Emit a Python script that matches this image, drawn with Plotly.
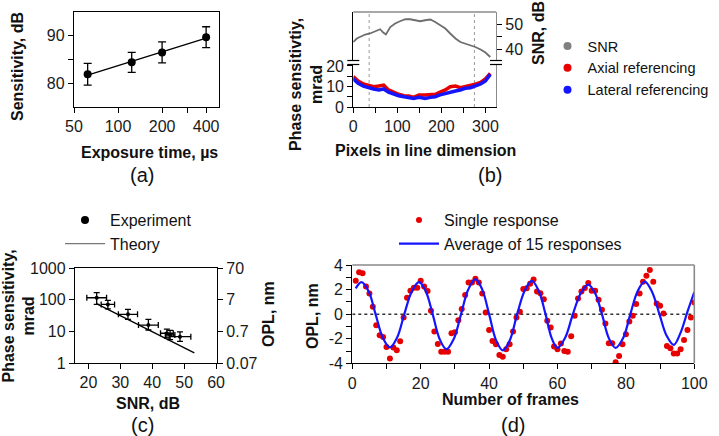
import plotly.graph_objects as go

W, H = 719, 436
FONT = "Liberation Sans, Arial, sans-serif"

# (a) sensitivity vs exposure time
exposure_us = [62, 124, 200, 400]
sensitivity_db = [81.9, 84.4, 86.5, 89.7]
sensitivity_err = [2.3, 2.1, 2.2, 2.2]
fit_exposure_us = [62, 400]
fit_sensitivity_db = [81.7, 89.5]

# (b) SNR and phase sensitivity along the line
snr_pixels = [0, 8, 15, 27, 38, 49, 61, 68, 74, 84, 95, 106, 118, 129, 140,
              152, 163, 175, 186, 197, 209, 220, 232, 243, 254, 266, 277, 289, 300, 311]
snr_db = [42.9, 44.3, 44.9, 45.9, 46.3, 47.2, 48.0, 46.7, 45.9, 48.9, 50.3, 51.2, 52.0, 52.0, 51.6,
          51.2, 51.6, 51.9, 50.9, 49.6, 48.3, 46.3, 44.3, 42.9, 42.3, 41.6, 40.9, 39.9, 38.7, 36.9]
phase_pixels = [0, 11, 23, 34, 46, 58, 69, 80, 91, 103, 115, 126, 137, 149,
                163, 175, 186, 197, 209, 220, 232, 243, 254, 266, 277, 289, 300, 311]
axial_mrad = [14.8, 12.7, 11.2, 10.7, 9.9, 10.2, 10.7, 8.3, 7.2, 6.2, 5.5, 5.4, 4.7, 5.9,
              5.9, 6.2, 6.2, 7.2, 8.3, 9.9, 10.2, 9.4, 9.9, 10.7, 11.1, 12.0, 13.7, 16.4]
lateral_mrad = [13.7, 11.5, 10.2, 9.4, 8.8, 8.3, 8.8, 7.2, 6.2, 5.5, 5.0, 4.5, 4.2, 4.7,
                4.2, 4.7, 5.0, 5.9, 6.7, 7.2, 7.8, 8.3, 9.1, 9.4, 10.2, 11.2, 12.7, 15.9]
roi_pixels = [36, 275]

# (c) phase sensitivity vs SNR
snr_exp = [22.6, 26.1, 32.4, 38.8, 44.6, 45.6, 48.7]
snr_exp_err = [3.1, 2.1, 3.0, 3.1, 2.0, 1.5, 3.4]
phase_exp = [115, 71, 34.5, 15.8, 8.7, 7.7, 6.8]
phase_err_plus = [51, 24, 15, 8, 3, 3, 2.8]
phase_err_minus = [44, 20, 10.5, 4.8, 2.5, 2.2, 2.0]
theory_snr = [22.5, 53.2]
theory_phase = [75, 2.1]

# (d) OPL response
frames = list(range(1, 101))
single_opl = [2.72, 3.4, 3.32, 2.26, 1.69, 0.6, -0.9, -1.71, -1.85, -2.67,
              -3.6, -2.72, -2.94, -2.2, -0.27, 1.33, 1.9, 2.15, 2.15, 2.72,
              2.26, 1.88, 0.27, -1.41, -2.42, -3.07, -3.07, -3.07, -1.55, -1.47,
              -0.49, 0.41, 1.55, 2.58, 2.58, 2.88, 2.58, 1.69, 0.14, -1.28,
              -2.18, -2.45, -3.32, -3.46, -2.86, -2.45, -1.41, -0.27, 0.19, 2.04,
              2.1, 2.48, 2.83, 1.85, 1.71, 1.22, -0.54, -1.09, -2.64, -2.86,
              -2.39, -2.99, -3.05, -1.8, -0.14, 1.28, 1.85, 2.12, 2.53, 1.9,
              1.9, 1.17, 0.35, -0.76, -2.37, -2.37, -3.92, -3.4, -2.45, -1.63,
              -0.6, -0.14, 0.82, 1.69, 2.64, 3.13, 3.59, 2.64, 0.87, 0.68,
              0.05, -2.59, -2.78, -3.21, -3.21, -2.86, -2.1, -1.28, -0.27, 0.95]
avg_frames = [1, 2.7, 4.8, 6.8, 8.9, 11, 13.1, 15.2, 17.4, 19.5, 21.5, 23.5, 25.5, 27.5,
              29.7, 31.8, 33.9, 36, 38, 40, 42, 44, 46.1, 48.2, 50.4, 52.5, 54.5, 56.5,
              58.3, 60, 62.2, 64.5, 66.8, 69, 71, 73, 75, 77, 79.2, 81.3, 83.4, 85.5,
              87.6, 89.8, 91.9, 94, 96, 98, 100]
avg_opl = [2.1, 2.6, 1.85, 0, -1.9, -2.7, -1.9, 0, 1.85, 2.6, 1.85, 0, -2.0, -2.85,
           -2.0, 0, 2.0, 2.85, 2.0, 0, -2.1, -2.95, -2.1, 0, 1.9, 2.7, 1.9, 0,
           -1.95, -2.75, -1.95, 0, 1.7, 2.4, 1.7, 0, -1.95, -2.75, -1.95, 0, 1.85, 2.65,
           1.85, 0, -1.75, -2.5, -1.5, 0.2, 1.8]

RED = '#e60000'
BLUE = '#1414ff'
GRAY = '#6e6e6e'


def px(x):
    return x / W


def py(y):
    return 1 - y / H


def axis(**kw):
    base = dict(showline=True, linecolor='black', linewidth=1.3, ticks='outside',
                ticklen=5, tickwidth=1.3, tickcolor='black', showgrid=False,
                zeroline=False, automargin=False,
                tickfont=dict(size=16, family=FONT, color='#1a1a1a'))
    base.update(kw)
    return base


fig = go.Figure()

# ---- (a)
fig.add_trace(go.Scatter(x=fit_exposure_us, y=fit_sensitivity_db, mode='lines',
                         line=dict(color='black', width=1.3), showlegend=False,
                         xaxis='x', yaxis='y'))
fig.add_trace(go.Scatter(x=exposure_us, y=sensitivity_db, mode='markers',
                         marker=dict(color='black', size=8),
                         error_y=dict(type='data', array=sensitivity_err, color='black',
                                      thickness=1.3, width=4),
                         showlegend=False, xaxis='x', yaxis='y'))

# ---- (b)
fig.add_trace(go.Scatter(x=snr_pixels, y=snr_db, mode='lines',
                         line=dict(color=GRAY, width=1.8), showlegend=False,
                         xaxis='x2', yaxis='y3'))
fig.add_trace(go.Scatter(x=phase_pixels, y=axial_mrad, mode='lines',
                         line=dict(color=RED, width=3.5), showlegend=False,
                         xaxis='x2', yaxis='y2'))
fig.add_trace(go.Scatter(x=phase_pixels, y=lateral_mrad, mode='lines',
                         line=dict(color=BLUE, width=3.5), showlegend=False,
                         xaxis='x2', yaxis='y2'))
for name, col in [('SNR', '#808080'), ('Axial referencing', RED), ('Lateral referencing', BLUE)]:
    fig.add_trace(go.Scatter(x=[None], y=[None], mode='markers', name=name,
                             marker=dict(color=col, size=8), legend='legend',
                             xaxis='x2', yaxis='y2'))

# ---- (c)
fig.add_trace(go.Scatter(x=theory_snr, y=theory_phase, mode='lines',
                         line=dict(color='black', width=1.3), showlegend=False,
                         xaxis='x3', yaxis='y4'))
fig.add_trace(go.Scatter(x=snr_exp, y=phase_exp, mode='markers',
                         marker=dict(color='black', size=4),
                         error_x=dict(type='data', array=snr_exp_err, color='black',
                                      thickness=1.3, width=3),
                         error_y=dict(type='data', array=phase_err_plus,
                                      arrayminus=phase_err_minus, color='black',
                                      thickness=1.3, width=3),
                         showlegend=False, xaxis='x3', yaxis='y4'))
fig.add_trace(go.Scatter(x=[None], y=[None], mode='markers', name='Experiment',
                         marker=dict(color='black', size=8), legend='legend2',
                         xaxis='x3', yaxis='y5'))
fig.add_trace(go.Scatter(x=[None], y=[None], mode='lines', name='Theory',
                         line=dict(color='#777777', width=1.3), legend='legend2',
                         xaxis='x3', yaxis='y5'))

# ---- (d)
fig.add_trace(go.Scatter(x=frames, y=single_opl, mode='markers', name='Single response',
                         marker=dict(color=RED, size=6), legend='legend3',
                         xaxis='x4', yaxis='y6'))
fig.add_trace(go.Scatter(x=avg_frames, y=avg_opl, mode='lines', name='Average of 15 responses',
                         line=dict(color=BLUE, width=2.2, shape='spline'), legend='legend3',
                         xaxis='x4', yaxis='y6'))

dom_top = [py(107), py(12)]

layout_axes = dict(
    xaxis=axis(type='log', domain=[px(74), px(219)], range=[1.699, 2.690], anchor='y',
               tickvals=[50, 100, 200, 300, 400], ticktext=['50', '100', '200', '', '400'],
               mirror=True),
    yaxis=axis(domain=dom_top, range=[75, 95], anchor='x', tickvals=[80, 85, 90],
               ticktext=['80', '', '90'], mirror=True),
    xaxis2=axis(domain=[px(353.3), px(496)], range=[0, 324], anchor='y2',
                tickvals=[0, 50, 100, 150, 200, 250, 300],
                ticktext=['0', '', '100', '', '200', '', '300']),
    yaxis2=axis(domain=dom_top, range=[0, 46.3], anchor='x2',
                tickvals=[0, 5, 10, 15, 20], ticktext=['0', '', '10', '', '20']),
    yaxis3=axis(domain=dom_top, range=[16.9, 54.9], anchor='x2', overlaying='y2',
                side='right', linecolor='#8a8a8a', tickvals=[40, 45, 50],
                ticktext=['40', '', '50']),
    xaxis3=axis(domain=[px(75), px(217)], range=[15.8, 60.3], anchor='y4',
                tickvals=[20, 30, 40, 50, 60], mirror=True),
    yaxis4=axis(type='log', domain=[py(363), py(268)], range=[0, 3], anchor='x3',
                tickvals=[1, 10, 100, 1000], ticktext=['1', '10', '100', '1000']),
    yaxis5=axis(type='log', domain=[py(363), py(268)], range=[-1.155, 1.845], anchor='x3',
                overlaying='y4', side='right', tickvals=[0.07, 0.7, 7, 70],
                ticktext=['0.07', '0.7', '7', '70']),
    xaxis4=axis(domain=[px(352.3), px(694.3)], range=[0, 100], anchor='y6',
                tickvals=list(range(0, 101, 10)),
                ticktext=['0', '', '20', '', '40', '', '60', '', '80', '', '100']),
    yaxis6=axis(domain=[py(363.3), py(265)], range=[-4, 4], anchor='x4',
                tickvals=[-4, -3, -2, -1, 0, 1, 2, 3, 4],
                ticktext=['-4', '', '-2', '', '0', '', '2', '', '4']),
)

shapes = []
# (b) top border and region-of-interest lines
shapes.append(dict(type='line', xref='paper', yref='paper', x0=px(353.3), x1=px(496),
                   y0=py(12), y1=py(12), line=dict(color='#8a8a8a', width=1.6)))
for xv in roi_pixels:
    shapes.append(dict(type='line', xref='x2', yref='y2 domain', x0=xv, x1=xv, y0=0, y1=1,
                       line=dict(color='#9a9a9a', width=1, dash='dot'), layer='below'))
# axis breaks
for xb in [353.3, 496]:
    shapes.append(dict(type='rect', xref='paper', yref='paper', x0=px(xb - 2), x1=px(xb + 2),
                       y0=py(64.5), y1=py(60.5), fillcolor='white', line=dict(width=0),
                       layer='above'))
    for yb in [60.5, 64.5]:
        shapes.append(dict(type='line', xref='paper', yref='paper', x0=px(xb - 6), x1=px(xb + 6),
                           y0=py(yb), y1=py(yb), line=dict(color='black', width=1.2),
                           layer='above'))
# (d) zero line and grey top/right border
shapes.append(dict(type='line', xref='x4', yref='y6', x0=0, x1=100, y0=0, y1=0,
                   line=dict(color='#333333', width=1.5, dash='dot'), layer='below'))
shapes.append(dict(type='line', xref='paper', yref='paper', x0=px(352.3), x1=px(694.3),
                   y0=py(265), y1=py(265), line=dict(color='#8a8a8a', width=1.6)))
shapes.append(dict(type='line', xref='paper', yref='paper', x0=px(694.3), x1=px(694.3),
                   y0=py(265), y1=py(363.3), line=dict(color='#8a8a8a', width=1.6)))

annotations = []


def label(text, x, y, size=16, bold=True, angle=0):
    annotations.append(dict(text=f'<b>{text}</b>' if bold else text, x=px(x), y=py(y),
                            xref='paper', yref='paper', showarrow=False, textangle=angle,
                            xanchor='center', yanchor='middle',
                            font=dict(size=size, family=FONT, color='#111111')))


label('Sensitivity, dB', 17, 67, angle=-90)
label('Exposure time, µs', 149, 152)
label('(a)', 142, 175, size=20, bold=False)
label('Phase sensitivtiy,<br>mrad', 306, 85, angle=-90)
label('SNR, dB', 538, 33, angle=-90)
label('Pixels in line dimension', 426, 150)
label('(b)', 490, 175, size=20, bold=False)
label('Phase sensitivity,<br>mrad', 18.5, 316, angle=-90)
label('OPL, nm', 268, 314, angle=-90)
label('SNR, dB', 148, 403)
label('(c)', 142, 425, size=20, bold=False)
label('OPL, nm', 312, 316, angle=-90)
label('Number of frames', 510, 399)
label('(d)', 513, 425, size=20, bold=False)


def legend_at(x, y, size, itemwidth=30):
    return dict(x=px(x), y=py(y), xanchor='left', yanchor='top', tracegroupgap=0,
                bgcolor='rgba(0,0,0,0)', itemwidth=itemwidth,
                font=dict(size=size, family=FONT, color='#111111'))


fig.update_layout(
    width=W, height=H, margin=dict(l=0, r=0, t=0, b=0, autoexpand=False),
    paper_bgcolor='white', plot_bgcolor='white',
    font=dict(family=FONT, size=16, color='#111111'),
    shapes=shapes, annotations=annotations,
    legend=legend_at(547.5, 30, 14.5),
    legend2=legend_at(60, 203, 16, itemwidth=40),
    legend3=legend_at(394, 203, 16, itemwidth=40),
    **layout_axes,
)

# the page's default body margin would offset the figure by 8 px
fig.write_html("out.html", config={'displayModeBar': False},
               post_script="document.body.style.margin='0';")
